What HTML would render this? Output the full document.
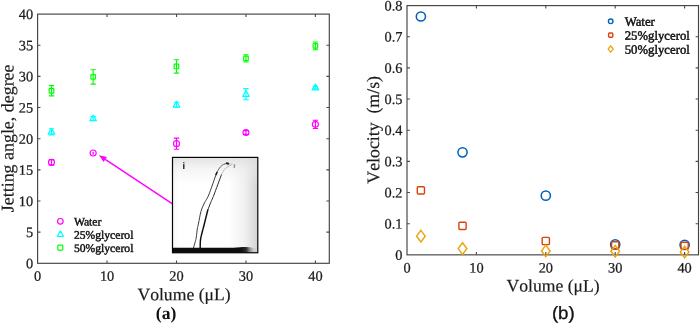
<!DOCTYPE html>
<html><head><meta charset="utf-8"><title>Jetting angle and velocity vs volume</title>
<style>html,body{margin:0;padding:0;background:#fff}body{width:700px;height:324px;overflow:hidden}svg{display:block}text{font-family:"Liberation Serif",serif;font-kerning:none;font-variant-ligatures:none}</style>
</head><body>
<svg width="700" height="324" viewBox="0 0 700 324">
<defs>
<linearGradient id="insbg" x1="0" y1="0" x2="1" y2="0"><stop offset="0" stop-color="#f8f8f8"/><stop offset="0.08" stop-color="#ffffff"/><stop offset="0.66" stop-color="#ffffff"/><stop offset="0.84" stop-color="#f1f1f1"/><stop offset="0.94" stop-color="#dfdfdf"/><stop offset="1" stop-color="#d2d2d2"/></linearGradient>
<linearGradient id="instop" x1="0" y1="0" x2="0" y2="1"><stop offset="0" stop-color="#dcdcdc" stop-opacity="0.85"/><stop offset="0.12" stop-color="#e8e8e8" stop-opacity="0.45"/><stop offset="0.3" stop-color="#f0f0f0" stop-opacity="0"/></linearGradient>
<linearGradient id="band" x1="0" y1="0" x2="1" y2="0"><stop offset="0" stop-color="#0a0a0a"/><stop offset="0.80" stop-color="#0d0d0d"/><stop offset="0.865" stop-color="#2e2e2e"/><stop offset="0.905" stop-color="#8c8c8c"/><stop offset="0.945" stop-color="#c8c8c8"/><stop offset="1" stop-color="#d6d6d6"/></linearGradient>
<filter id="b1" x="-20%" y="-20%" width="140%" height="140%"><feGaussianBlur stdDeviation="0.35"/></filter>
<filter id="b2" x="-20%" y="-20%" width="140%" height="140%"><feGaussianBlur stdDeviation="0.8"/></filter>
</defs>
<rect width="700" height="324" fill="#fff"/>
<g opacity="0.999">
<rect x="37.60" y="14.10" width="291.70" height="249.20" stroke="#444444" stroke-width="1.15" fill="none"/>
<g stroke="#4a4a4a" stroke-width="1.1" fill="none">
<path d="M107.05 263.30V260.40M107.05 14.10V17.00"/>
<path d="M176.50 263.30V260.40M176.50 14.10V17.00"/>
<path d="M245.96 263.30V260.40M245.96 14.10V17.00"/>
<path d="M315.41 263.30V260.40M315.41 14.10V17.00"/>
<path d="M37.60 232.15H40.50M329.30 232.15H326.40"/>
<path d="M37.60 201.00H40.50M329.30 201.00H326.40"/>
<path d="M37.60 169.85H40.50M329.30 169.85H326.40"/>
<path d="M37.60 138.70H40.50M329.30 138.70H326.40"/>
<path d="M37.60 107.55H40.50M329.30 107.55H326.40"/>
<path d="M37.60 76.40H40.50M329.30 76.40H326.40"/>
<path d="M37.60 45.25H40.50M329.30 45.25H326.40"/>
</g>
<g fill="#1c1c1c" font-size="14.35" stroke="#1c1c1c" stroke-width="0.25">
<text transform="translate(37.60,280.65) rotate(0.06)" text-anchor="middle">0</text>
<text transform="translate(107.05,280.65) rotate(0.06)" text-anchor="middle">10</text>
<text transform="translate(176.50,280.65) rotate(0.06)" text-anchor="middle">20</text>
<text transform="translate(245.96,280.65) rotate(0.06)" text-anchor="middle">30</text>
<text transform="translate(315.41,280.65) rotate(0.06)" text-anchor="middle">40</text>
<text transform="translate(33.15,268.25) rotate(0.06)" text-anchor="end">0</text>
<text transform="translate(33.15,237.10) rotate(0.06)" text-anchor="end">5</text>
<text transform="translate(33.15,205.95) rotate(0.06)" text-anchor="end">10</text>
<text transform="translate(33.15,174.80) rotate(0.06)" text-anchor="end">15</text>
<text transform="translate(33.15,143.65) rotate(0.06)" text-anchor="end">20</text>
<text transform="translate(33.15,112.50) rotate(0.06)" text-anchor="end">25</text>
<text transform="translate(33.15,81.35) rotate(0.06)" text-anchor="end">30</text>
<text transform="translate(33.15,50.20) rotate(0.06)" text-anchor="end">35</text>
<text transform="translate(33.15,19.05) rotate(0.06)" text-anchor="end">40</text>
</g>
<text transform="translate(184.0,300.3) rotate(0.06)" text-anchor="middle" font-size="17.65" fill="#1c1c1c" stroke="#1c1c1c" stroke-width="0.2">Volume (μL)</text>
<text transform="translate(13.5,138.35) rotate(-90.06)" text-anchor="middle" font-size="17.92" fill="#1c1c1c" stroke="#1c1c1c" stroke-width="0.2">Jetting angle, degree</text>
<text transform="translate(166.1,319.0) rotate(0.06)" text-anchor="middle" font-size="17.6" font-weight="bold" fill="#111">(a)</text>
<path d="M51.49 85.56V95.90M48.79 85.56H54.19M48.79 95.90H54.19" stroke="#00ff00" stroke-width="1.15" fill="none"/>
<rect x="49.19" y="88.43" width="4.6" height="4.6" rx="0.6" stroke="#00ff00" stroke-width="1.2" fill="none"/>
<path d="M93.16 69.73V84.06M90.46 69.73H95.86M90.46 84.06H95.86" stroke="#00ff00" stroke-width="1.15" fill="none"/>
<rect x="90.86" y="74.60" width="4.6" height="4.6" rx="0.6" stroke="#00ff00" stroke-width="1.2" fill="none"/>
<path d="M176.50 59.77V73.10M173.80 59.77H179.20M173.80 73.10H179.20" stroke="#00ff00" stroke-width="1.15" fill="none"/>
<rect x="174.20" y="64.13" width="4.6" height="4.6" rx="0.6" stroke="#00ff00" stroke-width="1.2" fill="none"/>
<path d="M245.96 54.72V61.95M243.26 54.72H248.66M243.26 61.95H248.66" stroke="#00ff00" stroke-width="1.15" fill="none"/>
<rect x="243.66" y="56.03" width="4.6" height="4.6" rx="0.6" stroke="#00ff00" stroke-width="1.2" fill="none"/>
<path d="M315.41 42.01V49.74M312.71 42.01H318.11M312.71 49.74H318.11" stroke="#00ff00" stroke-width="1.15" fill="none"/>
<rect x="313.11" y="43.57" width="4.6" height="4.6" rx="0.6" stroke="#00ff00" stroke-width="1.2" fill="none"/>
<path d="M51.49 128.73V134.96M48.79 128.73H54.19M48.79 134.96H54.19" stroke="#00ffff" stroke-width="1.15" fill="none"/>
<path d="M51.49 128.35L54.79 134.15H48.19Z" stroke="#00ffff" stroke-width="1.2" fill="none" stroke-linejoin="round"/>
<path d="M93.16 116.58V120.32M90.46 116.58H95.86M90.46 120.32H95.86" stroke="#00ffff" stroke-width="1.15" fill="none"/>
<path d="M93.16 114.95L96.46 120.75H89.86Z" stroke="#00ffff" stroke-width="1.2" fill="none" stroke-linejoin="round"/>
<path d="M176.50 102.25V107.24M173.80 102.25H179.20M173.80 107.24H179.20" stroke="#00ffff" stroke-width="1.15" fill="none"/>
<path d="M176.50 101.25L179.80 107.05H173.20Z" stroke="#00ffff" stroke-width="1.2" fill="none" stroke-linejoin="round"/>
<path d="M245.96 88.55V99.76M243.26 88.55H248.66M243.26 99.76H248.66" stroke="#00ffff" stroke-width="1.15" fill="none"/>
<path d="M245.96 90.66L249.26 96.46H242.66Z" stroke="#00ffff" stroke-width="1.2" fill="none" stroke-linejoin="round"/>
<path d="M315.41 86.37V88.86M312.71 86.37H318.11M312.71 88.86H318.11" stroke="#00ffff" stroke-width="1.15" fill="none"/>
<path d="M315.41 84.11L318.71 89.91H312.11Z" stroke="#00ffff" stroke-width="1.2" fill="none" stroke-linejoin="round"/>
<path d="M51.49 159.57V165.18M48.79 159.57H54.19M48.79 165.18H54.19" stroke="#ff00ff" stroke-width="1.15" fill="none"/>
<circle cx="51.49" cy="162.37" r="3.0" stroke="#ff00ff" stroke-width="1.15" fill="none"/>
<path d="M93.16 152.33V154.23" stroke="#ff00ff" stroke-width="1.3" stroke-linecap="round"/>
<circle cx="93.16" cy="153.03" r="3.0" stroke="#ff00ff" stroke-width="1.15" fill="none"/>
<path d="M176.50 138.08V149.29M173.80 138.08H179.20M173.80 149.29H179.20" stroke="#ff00ff" stroke-width="1.15" fill="none"/>
<circle cx="176.50" cy="143.68" r="3.0" stroke="#ff00ff" stroke-width="1.15" fill="none"/>
<path d="M245.96 130.60V134.34M243.26 130.60H248.66M243.26 134.34H248.66" stroke="#ff00ff" stroke-width="1.15" fill="none"/>
<circle cx="245.96" cy="132.47" r="3.0" stroke="#ff00ff" stroke-width="1.15" fill="none"/>
<path d="M315.41 120.26V128.48M312.71 120.26H318.11M312.71 128.48H318.11" stroke="#ff00ff" stroke-width="1.15" fill="none"/>
<circle cx="315.41" cy="124.37" r="3.0" stroke="#ff00ff" stroke-width="1.15" fill="none"/>
<path d="M172.50 203.90L105.26 159.44" stroke="#ff00ff" stroke-width="1.5" fill="none"/>
<path d="M99.00 155.30L103.60 161.94L106.91 156.93Z" fill="#ff00ff"/>
<g>
<rect x="172.5" y="157.4" width="85.30" height="95.35" fill="url(#insbg)"/>
<rect x="172.5" y="157.4" width="85.30" height="95.35" fill="url(#instop)"/>
<g fill="none" stroke-linecap="round" stroke-linejoin="round" filter="url(#b1)">
<path d="M193.50 247.70C193.80 246.67 194.83 243.28 195.30 241.50C195.77 239.72 195.97 239.08 196.30 237.00C196.63 234.92 196.92 231.33 197.30 229.00C197.68 226.67 197.98 225.95 198.60 223.00C199.22 220.05 200.03 214.63 201.00 211.30C201.97 207.97 203.12 205.72 204.40 203.00C205.68 200.28 206.73 199.83 208.70 195.00C210.67 190.17 214.95 177.50 216.20 174.00" stroke="#333333" stroke-width="0.95"/>
<path d="M216.20 174.00C216.63 173.17 217.83 170.43 218.80 169.00C219.77 167.57 220.97 166.25 222.00 165.40C223.03 164.55 224.13 164.22 225.00 163.90C225.87 163.58 226.83 163.57 227.20 163.50" stroke="#5c5c5c" stroke-width="0.95"/>
<path d="M216.0 174.6 L217.0 172.4" stroke="#1e1e1e" stroke-width="1.5"/>
<path d="M200.20 247.70C200.25 246.35 200.12 242.38 200.50 239.60C200.88 236.82 201.88 233.52 202.50 231.00C203.12 228.48 203.32 228.00 204.20 224.50C205.08 221.00 207.20 212.42 207.80 210.00" stroke="#0c0c0c" stroke-width="1.45"/>
<path d="M207.80 210.00C208.25 208.83 209.48 205.50 210.50 203.00C211.52 200.50 212.07 199.75 213.90 195.00C215.73 190.25 220.23 177.92 221.50 174.50" stroke="#2a2a2a" stroke-width="1.0"/>
<path d="M221.50 174.50C221.97 173.68 223.22 170.92 224.30 169.60C225.38 168.28 226.80 167.38 228.00 166.60C229.20 165.82 230.92 165.18 231.50 164.90" stroke="#b4b4b4" stroke-width="0.9"/>
<path d="M226.8 163.3 L228.4 163.8" stroke="#262626" stroke-width="2.0"/>
<path d="M229.5 163.9 C231.5 163.5 233.6 164.0 234.6 165.0" stroke="#c4c4c4" stroke-width="0.8"/>
<path d="M234.6 164.8 L234.2 167.4" stroke="#8a8a8a" stroke-width="1.3"/>
</g>
<path d="M172.5 247.8 L233.5 247.8 C238 247.4 242 246.9 246 246.9 L250 247.2 L257.8 249 L257.8 252.75 L172.5 252.75Z" fill="url(#band)" filter="url(#b1)"/>
<rect x="172.5" y="157.4" width="85.30" height="95.35" fill="none" stroke="#050505" stroke-width="1.2"/>
<text transform="translate(183.9,168.9) rotate(0.06)" text-anchor="middle" font-size="9.2" font-weight="bold" fill="#111" stroke="#111" stroke-width="0.05" style="font-family:'Liberation Sans', sans-serif">i</text>
</g>
<circle cx="60.35" cy="221.3" r="2.8" stroke="#ff00ff" stroke-width="1.2" fill="none"/>
<path d="M60.35 230.9L63.4 236.3H57.3Z" stroke="#00ffff" stroke-width="1.2" fill="none" stroke-linejoin="round"/>
<rect x="57.85" y="245.1" width="5" height="5" rx="0.8" stroke="#00ff00" stroke-width="1.2" fill="none"/>
<g font-size="11.65" fill="#111" stroke="#111" stroke-width="0.42">
<text transform="translate(73.9,225.5) rotate(0.06)" style="font-kerning:normal">Water</text>
<text transform="translate(73.9,238.7) rotate(0.06)">25%glycerol</text>
<text transform="translate(73.9,252.0) rotate(0.06)">50%glycerol</text>
</g>
<rect x="407.00" y="5.60" width="291.50" height="249.25" stroke="#444444" stroke-width="1.15" fill="none"/>
<g stroke="#4a4a4a" stroke-width="1.1" fill="none">
<path d="M476.40 254.85V251.95M476.40 5.60V8.50"/>
<path d="M545.81 254.85V251.95M545.81 5.60V8.50"/>
<path d="M615.21 254.85V251.95M615.21 5.60V8.50"/>
<path d="M684.62 254.85V251.95M684.62 5.60V8.50"/>
<path d="M407.00 223.69H409.90M698.50 223.69H695.60"/>
<path d="M407.00 192.54H409.90M698.50 192.54H695.60"/>
<path d="M407.00 161.38H409.90M698.50 161.38H695.60"/>
<path d="M407.00 130.22H409.90M698.50 130.22H695.60"/>
<path d="M407.00 99.07H409.90M698.50 99.07H695.60"/>
<path d="M407.00 67.91H409.90M698.50 67.91H695.60"/>
<path d="M407.00 36.76H409.90M698.50 36.76H695.60"/>
</g>
<circle cx="420.88" cy="16.50" r="4.6" stroke="#0062bc" stroke-width="1.55" fill="none"/>
<circle cx="462.52" cy="152.35" r="4.6" stroke="#0062bc" stroke-width="1.55" fill="none"/>
<circle cx="545.81" cy="195.65" r="4.6" stroke="#0062bc" stroke-width="1.55" fill="none"/>
<circle cx="615.21" cy="244.41" r="4.6" stroke="#0062bc" stroke-width="1.55" fill="none"/>
<circle cx="684.62" cy="244.88" r="4.6" stroke="#0062bc" stroke-width="1.55" fill="none"/>
<rect x="417.28" y="186.76" width="7.2" height="7.2" rx="0.9" stroke="#d8440a" stroke-width="1.4" fill="none"/>
<rect x="458.92" y="222.27" width="7.2" height="7.2" rx="0.9" stroke="#d8440a" stroke-width="1.4" fill="none"/>
<rect x="542.21" y="237.39" width="7.2" height="7.2" rx="0.9" stroke="#d8440a" stroke-width="1.4" fill="none"/>
<rect x="611.61" y="241.75" width="7.2" height="7.2" rx="0.9" stroke="#d8440a" stroke-width="1.4" fill="none"/>
<rect x="681.02" y="242.21" width="7.2" height="7.2" rx="0.9" stroke="#d8440a" stroke-width="1.4" fill="none"/>
<path d="M420.88 230.36L425.18 236.16L420.88 241.96L416.58 236.16Z" stroke="#eba512" stroke-width="1.5" fill="none" stroke-linejoin="miter"/>
<path d="M462.52 242.82L466.82 248.62L462.52 254.42L458.22 248.62Z" stroke="#eba512" stroke-width="1.5" fill="none" stroke-linejoin="miter"/>
<path d="M545.81 245.16L550.11 250.96L545.81 256.76L541.51 250.96Z" stroke="#eba512" stroke-width="1.5" fill="none" stroke-linejoin="miter"/>
<path d="M615.21 245.47L619.51 251.27L615.21 257.07L610.91 251.27Z" stroke="#eba512" stroke-width="1.5" fill="none" stroke-linejoin="miter"/>
<path d="M684.62 246.25L688.92 252.05L684.62 257.85L680.32 252.05Z" stroke="#eba512" stroke-width="1.5" fill="none" stroke-linejoin="miter"/>
<g fill="#1c1c1c" font-size="14.35" stroke="#1c1c1c" stroke-width="0.25">
<text transform="translate(407.00,272.4) rotate(0.06)" text-anchor="middle">0</text>
<text transform="translate(476.40,272.4) rotate(0.06)" text-anchor="middle">10</text>
<text transform="translate(545.81,272.4) rotate(0.06)" text-anchor="middle">20</text>
<text transform="translate(615.21,272.4) rotate(0.06)" text-anchor="middle">30</text>
<text transform="translate(684.62,272.4) rotate(0.06)" text-anchor="middle">40</text>
<text transform="translate(402.5,259.70) rotate(0.06)" text-anchor="end">0</text>
<text transform="translate(402.5,228.54) rotate(0.06)" text-anchor="end">0.1</text>
<text transform="translate(402.5,197.39) rotate(0.06)" text-anchor="end">0.2</text>
<text transform="translate(402.5,166.23) rotate(0.06)" text-anchor="end">0.3</text>
<text transform="translate(402.5,135.07) rotate(0.06)" text-anchor="end">0.4</text>
<text transform="translate(402.5,103.92) rotate(0.06)" text-anchor="end">0.5</text>
<text transform="translate(402.5,72.76) rotate(0.06)" text-anchor="end">0.6</text>
<text transform="translate(402.5,41.61) rotate(0.06)" text-anchor="end">0.7</text>
<text transform="translate(402.5,10.45) rotate(0.06)" text-anchor="end">0.8</text>
</g>
<text transform="translate(553.1,291.6) rotate(0.06)" text-anchor="middle" font-size="17.65" fill="#1c1c1c" stroke="#1c1c1c" stroke-width="0.2">Volume (μL)</text>
<text transform="translate(379.1,129.85) rotate(-90.06)" text-anchor="middle" font-size="17.8" fill="#1c1c1c" stroke="#1c1c1c" stroke-width="0.2" xml:space="preserve">Velocity  (m/s)</text>
<text transform="translate(563.3,319.05) rotate(0.06) scale(1.05,1)" text-anchor="middle" font-size="17.8" fill="#111" stroke="#111" stroke-width="0.3" style="font-family:'Liberation Sans', sans-serif">(b)</text>
<circle cx="610.7" cy="21.3" r="2.3" stroke="#0062bc" stroke-width="1.4" fill="none"/>
<rect x="608.6" y="33.0" width="4.2" height="4.2" rx="1" stroke="#d8440a" stroke-width="1.4" fill="none"/>
<path d="M610.7 45.9L613.2 49.1L610.7 52.3L608.2 49.1Z" stroke="#eba512" stroke-width="1.3" fill="none"/>
<g font-size="12.75" fill="#111" stroke="#111" stroke-width="0.45">
<text transform="translate(624.7,25.65) rotate(0.06)" style="font-kerning:normal">Water</text>
<text transform="translate(624.7,39.65) rotate(0.06)">25%glycerol</text>
<text transform="translate(624.7,53.65) rotate(0.06)">50%glycerol</text>
</g>
</g>
</svg></body></html>
